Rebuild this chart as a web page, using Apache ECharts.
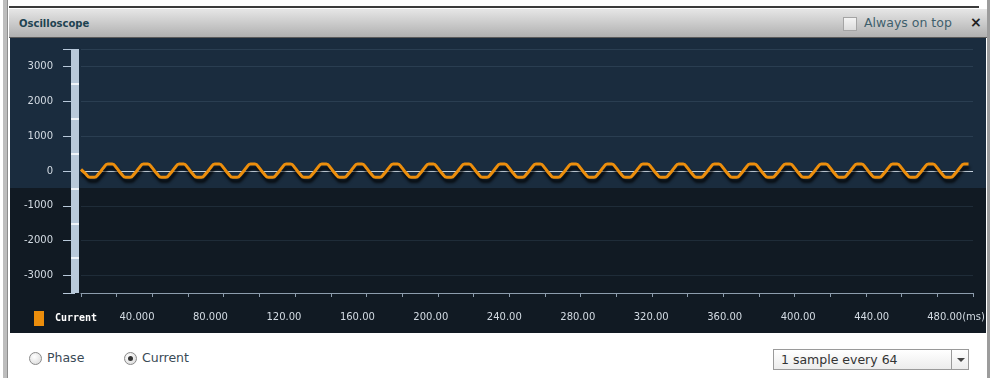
<!DOCTYPE html>
<html>
<head>
<meta charset="utf-8">
<script src="https://cdn.jsdelivr.net/npm/echarts@6/dist/echarts.min.js"></script>
<style>
  html, body { margin:0; padding:0; width:995px; height:378px; overflow:hidden; background:#ffffff; font-family:"DejaVu Sans", Verdana, sans-serif; }
  .abs { position:absolute; }
  #leftstrip { left:3px; top:0; width:4px; height:378px; background:#bdbdbd; border-right:1px solid #8d8d8d; }
  #rightstrip { left:987px; top:0; width:3px; height:378px; background:#9c9c9c; }
  #topline { left:9px; top:6px; width:970px; height:2px; background:#3b3b3b; }
  #header { left:9px; top:9px; width:978px; height:28px; background:linear-gradient(#e6e6e6, #b0b0b0); border-bottom:1px solid #5a5a5a; }
  #title { left:19px; top:17px; font-size:10px; font-weight:bold; color:#1d4250; line-height:14px; }
  #chk { left:843px; top:17px; width:12px; height:12px; border:1px solid #a4a4a4; background:linear-gradient(#f4f4f4,#dcdcdc); }
  #ontop { left:864px; top:15px; font-size:12.5px; color:#3f5f6c; line-height:16px; }
  #close { left:970px; top:14px; font-size:14px; font-weight:bold; color:#222; line-height:16px; }
  #ptop { left:10px; top:38px; width:976px; height:150px; background:#1a2c3e; }
  #pbot { left:10px; top:188px; width:976px; height:145px; background:#111a23; }
  .radio { width:11px; height:11px; border:1px solid #8a8a8a; border-radius:50%; background:radial-gradient(circle at 40% 35%, #ffffff, #d6d6d6); }
  .dot { width:5px; height:5px; border-radius:50%; background:#333; left:3px; top:3px; }
  .rlabel { font-size:12.5px; color:#3a4a56; line-height:16px; }
  #dd { left:773px; top:349px; width:194px; height:19px; border:1px solid #9a9a9a; background:linear-gradient(#ffffff,#ececec); }
  #ddtext { left:7px; top:1px; font-size:12.5px; color:#333; line-height:17px; }
  #ddsep { left:177px; top:0; width:1px; height:19px; background:#9a9a9a; }
  #ddarrow { left:183px; top:8px; width:0; height:0; border-left:4px solid transparent; border-right:4px solid transparent; border-top:4px solid #444; }
  #chart { left:0; top:0; width:995px; height:378px; }
</style>
</head>
<body>
<div class="abs" id="leftstrip"></div>
<div class="abs" id="rightstrip"></div>
<div class="abs" id="topline"></div>
<div class="abs" id="header"></div>
<div class="abs" id="title">Oscilloscope</div>
<div class="abs" id="chk"></div>
<div class="abs" id="ontop">Always on top</div>
<div class="abs" id="close">×</div>
<div class="abs" id="ptop"></div>
<div class="abs" id="pbot"></div>

<div class="abs radio" style="left:29px;top:352px;"></div>
<div class="abs rlabel" style="left:47px;top:350px;">Phase</div>
<div class="abs radio" style="left:124px;top:352px;"><div class="abs dot"></div></div>
<div class="abs rlabel" style="left:142px;top:350px;">Current</div>
<div class="abs" id="dd">
  <div class="abs" id="ddtext">1 sample every 64</div>
  <div class="abs" id="ddsep"></div>
  <div class="abs" id="ddarrow"></div>
</div>

<div class="abs" id="chart"></div>

<script>
// ---- data ----
const seriesName = 'Current';
const sampleMs = 2.5;            // time between samples (ms)
const currentValues = [
  45, -75, -180, -180, -75, 84, 203, 203,
  84, -75, -180, -180, -75, 84, 203, 203,
  84, -75, -180, -180, -75, 84, 203, 203,
  84, -75, -180, -180, -75, 84, 203, 203,
  84, -75, -180, -180, -75, 84, 203, 203,
  84, -75, -180, -180, -75, 84, 203, 203,
  84, -75, -180, -180, -75, 84, 203, 203,
  84, -75, -180, -180, -75, 84, 203, 203,
  84, -75, -180, -180, -75, 84, 203, 203,
  84, -75, -180, -180, -75, 84, 203, 203,
  84, -75, -180, -180, -75, 84, 203, 203,
  84, -75, -180, -180, -75, 84, 203, 203,
  84, -75, -180, -180, -75, 84, 203, 203,
  84, -75, -180, -180, -75, 84, 203, 203,
  84, -75, -180, -180, -75, 84, 203, 203,
  84, -75, -180, -180, -75, 84, 203, 203,
  84, -75, -180, -180, -75, 84, 203, 203,
  84, -75, -180, -180, -75, 84, 203, 203,
  84, -75, -180, -180, -75, 84, 203, 203,
  84, -75, -180, -180, -75, 84, 203, 203,
  84, -75, -180, -180, -75, 84, 203, 203,
  84, -75, -180, -180, -75, 84, 203, 203,
  84, -75, -180, -180, -75, 84, 203, 203,
  84, -75, -180, -180, -75, 84, 203, 203,
  84, -75, -180, -180, -75, 84, 203, 203
];
const yTickValues = [-3500, -3000, -2000, -1000, 0, 1000, 2000, 3000, 3500];
const yLabelValues = [-3000, -2000, -1000, 0, 1000, 2000, 3000];
const yMinorTickValues = [-2500, -1500, -500, 500, 1500, 2500];
const xLabelValues = [40, 80, 120, 160, 200, 240, 280, 320, 360, 400, 440, 480];
const xTickLabels = ['40.000', '80.000', '120.00', '160.00', '200.00', '240.00', '280.00', '320.00', '360.00', '400.00', '440.00', '480.00'];
const xUnit = '(ms)';

// ---- chart ----
const chart = echarts.init(document.getElementById('chart'), null, { renderer: 'canvas' });
const seriesData = currentValues.map((v, i) => [i * sampleMs, v]);
const labelFont = { color: '#d3dbe3', fontSize: 10, fontFamily: 'DejaVu Sans' };

const option = {
  animation: false,
  backgroundColor: 'transparent',
  grid: { left: 81, right: 22, top: 49, bottom: 85 },
  legend: {
    data: [seriesName],
    left: 34, top: 311, padding: 0,
    icon: 'rect', itemWidth: 10, itemHeight: 15,
    textStyle: { color: '#ffffff', fontWeight: 'bold', fontFamily: 'DejaVu Sans Mono', fontSize: 10, padding: [0, 0, 0, 6] },
    selectedMode: false
  },
  xAxis: [
    {
      type: 'value', min: 0, max: 500, interval: 20, position: 'bottom',
      axisLine: { show: true, onZero: false, lineStyle: { color: '#8d9dad', width: 1 } },
      axisTick: { show: true, length: 4, lineStyle: { color: '#8d9dad' } },
      axisLabel: { show: false },
      splitLine: { show: false }
    },
    {
      type: 'value', min: 9.51, max: 495.2, position: 'bottom',
      axisLine: { show: false, onZero: false },
      axisTick: { show: false },
      splitLine: { show: false },
      axisLabel: Object.assign({
        customValues: xLabelValues,
        margin: 19,
        formatter: function (v) {
          const i = xLabelValues.indexOf(v);
          const txt = i >= 0 ? xTickLabels[i] : '';
          return i === xLabelValues.length - 1 ? '{p|}{a|' + txt + '}{a|' + xUnit + '}' : txt;
        },
        rich: {
          p: { width: 22 },
          a: { color: '#d3dbe3', fontSize: 10, fontFamily: 'DejaVu Sans' }
        }
      }, labelFont)
    }
  ],
  yAxis: [
    {
      type: 'value', min: -3500, max: 3500, position: 'left', offset: 6,
      axisLine: { show: true, onZero: false, lineStyle: { color: '#b8c9da', width: 8, cap: 'butt' } },
      axisTick: { show: true, customValues: yTickValues, length: 12, lineStyle: { color: '#b8c9da', width: 1 } },
      axisLabel: Object.assign({ customValues: yLabelValues, margin: 22, formatter: function (v) { return String(v); } }, labelFont),
      splitLine: {
        show: true,
        lineStyle: {
          width: 1,
          color: ['#8d9dad', '#1f2c38', '#1f2c38', '#1f2c38', '#c7d3de', '#2a3e51', '#2a3e51', '#2a3e51', '#2a3e51']
        }
      }
    },
    {
      type: 'value', min: -3500, max: 3500, position: 'left', offset: 10,
      axisLine: { show: false, onZero: false },
      axisTick: { show: true, inside: true, customValues: yMinorTickValues, length: 8, lineStyle: { color: '#eef3f8', width: 2 } },
      axisLabel: { show: false },
      splitLine: { show: false }
    }
  ],
  series: [
    {
      name: seriesName,
      type: 'line',
      xAxisIndex: 0, yAxisIndex: 0,
      data: seriesData,
      smooth: true,
      showSymbol: false,
      itemStyle: { color: '#ec8e0c' },
      lineStyle: {
        color: '#ec8e0c', width: 3,
        shadowColor: 'rgba(0,0,0,0.85)', shadowBlur: 3, shadowOffsetX: 1, shadowOffsetY: 4
      }
    }
  ]
};
chart.setOption(option);
</script>
</body>
</html>
